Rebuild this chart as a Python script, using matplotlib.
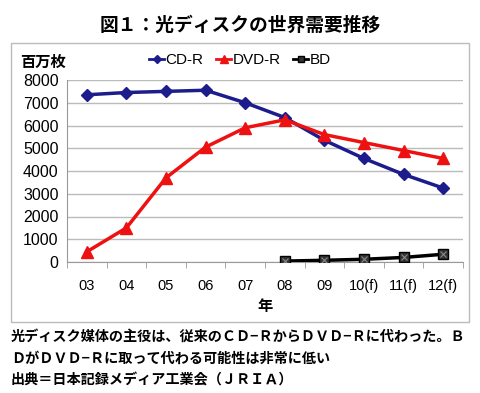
import matplotlib
matplotlib.use("Agg")
import matplotlib.pyplot as plt
from matplotlib.patches import Rectangle
from matplotlib.lines import Line2D

plt.rcParams['font.family'] = ['Liberation Sans', 'Noto Sans CJK JP', 'DejaVu Sans']

years = ["03", "04", "05", "06", "07", "08", "09", "10(f)", "11(f)", "12(f)"]
cdr = [7350, 7450, 7500, 7550, 7000, 6350, 5350, 4550, 3850, 3250]
dvdr = [450, 1500, 3700, 5050, 5900, 6250, 5600, 5250, 4900, 4550]
bd_years = ["08", "09", "10(f)", "11(f)", "12(f)"]
bd = [40, 75, 120, 200, 340]

W, H = 480, 393
fig = plt.figure(figsize=(W / 100, H / 100), dpi=100)

jp = ['Noto Sans CJK JP', 'DejaVu Sans']

fig.text(0.5, 1 - 25 / H, "図１：光ディスクの世界需要推移", ha="center", va="center",
         fontsize=13.5, fontweight="bold", family=jp)

# chart frame
fig.patches.append(Rectangle((11 / W, 1 - 322 / H), 458 / W, 279 / H,
                             transform=fig.transFigure, fill=False,
                             ec="#bbbbbb", lw=1))

ax = fig.add_axes([67 / W, 1 - 262 / H, 396 / W, 182 / H])
x = list(range(len(years)))
bx = [years.index(y) for y in bd_years]

ax.plot(x, cdr, color="#1c1c8c", lw=2.5, marker="D", ms=6, label="CD-R", zorder=3)
ax.plot(x, dvdr, color="#ee1111", lw=2.5, marker="^", ms=8, label="DVD-R", zorder=3)
ax.plot(bx, bd, color="black", lw=2.5, marker="s", ms=7, mfc="#333333", mec="black",
        label="BD", zorder=4)
ax.plot(bx, bd, ls="none", marker="x", ms=5, mec="#888888", mew=0.8, zorder=5)

ax.set_xlim(-0.5, len(years) - 0.5)
ax.set_ylim(0, 8000)
ax.set_yticks(range(0, 8001, 1000))
ax.set_xticks(x)
ax.set_xticklabels(years)
ax.set_xticks([i - 0.5 for i in range(len(years) + 1)], minor=True)
ax.tick_params(axis="x", which="major", length=0, pad=12, labelsize=10.5)
ax.tick_params(axis="x", which="minor", length=4, color="#999999", direction="out")
ax.tick_params(axis="y", length=0, pad=6, labelsize=11.5)
ax.grid(axis="y", color="#bbbbbb", lw=1)
ax.set_axisbelow(True)
for s in ["top", "right"]:
    ax.spines[s].set_visible(False)
ax.spines["left"].set_color("#999999")
ax.spines["bottom"].set_color("#999999")

ax.set_xlabel("年", fontsize=11, fontweight="bold", family=jp, labelpad=4)
fig.text(20 / W, 1 - 62 / H, "百万枚", ha="left", va="center", fontsize=11,
         fontweight="bold", family=jp)

handles = [
    Line2D([], [], color="#1c1c8c", lw=2, marker="D", ms=4),
    Line2D([], [], color="#ee1111", lw=2, marker="^", ms=6),
    Line2D([], [], color="black", lw=2, marker="s", ms=5, mfc="#333333"),
]
fig.legend(handles, ["CD-R", "DVD-R", "BD"], loc="center", ncol=3,
           bbox_to_anchor=(240 / W, 1 - 60 / H), frameon=False, fontsize=11,
           handlelength=1.0, handletextpad=0.1, columnspacing=0.8)

cap = ["光ディスク媒体の主役は、従来のＣＤ−ＲからＤＶＤ−Ｒに代わった。Ｂ",
       "ＤがＤＶＤ−Ｒに取って代わる可能性は非常に低い",
       "出典＝日本記録メディア工業会（ＪＲＩＡ）"]
for i, t in enumerate(cap):
    fig.text(11 / W, 1 - (337 + i * 21.5) / H, t, ha="left", va="center",
             fontsize=10.2, fontweight="bold", family=jp)

fig.savefig("out.png", dpi=100)
